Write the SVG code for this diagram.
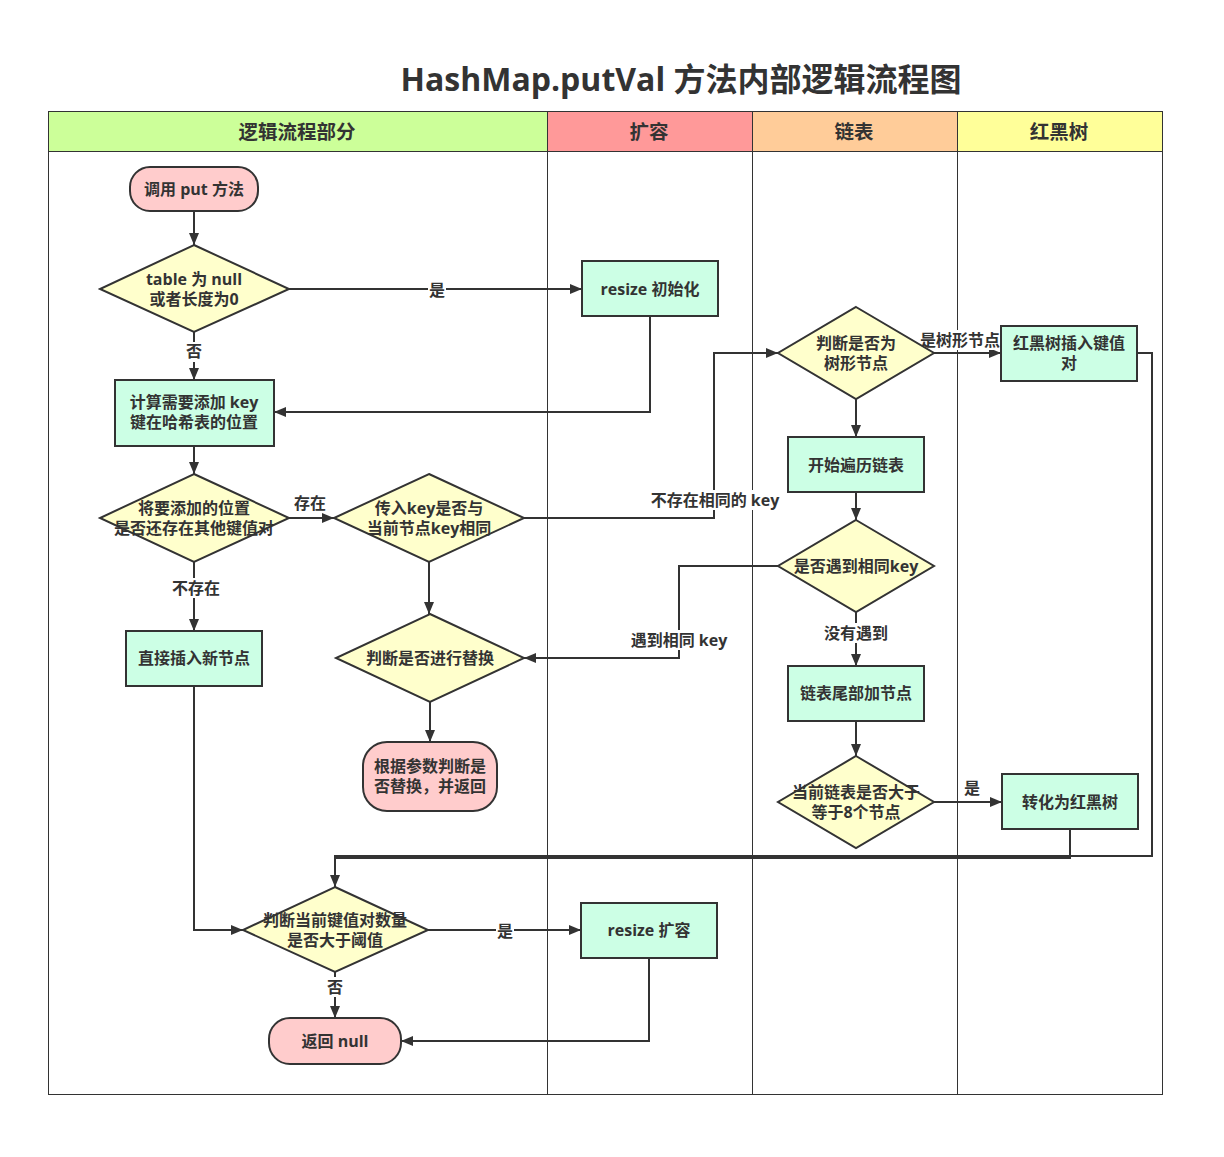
<svg xmlns="http://www.w3.org/2000/svg" width="1224" height="1157" viewBox="0 0 1224 1157">
<defs>
<marker id="arr" markerUnits="userSpaceOnUse" markerWidth="12" markerHeight="10" refX="12" refY="5" orient="auto">
<path d="M0,0 L12,5 L0,10 z" fill="#333"/>
</marker>
<style>
text{font-family:"Open Sans","Noto Sans CJK SC",sans-serif;font-weight:bold;fill:#333;text-anchor:middle;dominant-baseline:central}
.n{font-size:16px}
.h{font-size:19.5px}
.lbl{font-size:16px}
.c{fill:none;stroke:#333;stroke-width:2;marker-end:url(#arr)}
.cn{fill:none;stroke:#333;stroke-width:2}
.rect{fill:#ccffe5;stroke:#333;stroke-width:2}
.dia{fill:#ffffcc;stroke:#333;stroke-width:2}
.term{fill:#ffcccc;stroke:#333;stroke-width:2}
.lane{fill:none;stroke:#333;stroke-width:1}
.bg{fill:#fff}
</style>
</defs>
<rect width="1224" height="1157" fill="#fff"/>
<text x="681" y="78" style="font-size:32px">HashMap.putVal 方法内部逻辑流程图</text>

<g id="lanes">
<rect x="48" y="111" width="499" height="40" fill="#ccff99"/>
<rect x="547" y="111" width="205" height="40" fill="#ff9999"/>
<rect x="752" y="111" width="205" height="40" fill="#ffcc99"/>
<rect x="957" y="111" width="205" height="40" fill="#ffff99"/>
<rect x="48.5" y="111.5" width="1114" height="983" class="lane"/>
<line x1="48" y1="151.5" x2="1162" y2="151.5" class="lane"/>
<line x1="547.5" y1="111" x2="547.5" y2="1094" class="lane"/>
<line x1="752.5" y1="111" x2="752.5" y2="1094" class="lane"/>
<line x1="957.5" y1="111" x2="957.5" y2="1094" class="lane"/>
<text x="297" y="131" class="h">逻辑流程部分</text>
<text x="649" y="131" class="h">扩容</text>
<text x="854" y="131" class="h">链表</text>
<text x="1059" y="131" class="h">红黑树</text>
</g>

<g id="connectors">
<path d="M194,211 L194,245" class="c"/>
<path d="M289,289 L582,289" class="c"/>
<path d="M194,332 L194,380" class="c"/>
<path d="M650,316 L650,412 L274,412" class="c"/>
<path d="M194,446 L194,474" class="c"/>
<path d="M289,518 L334,518" class="c"/>
<path d="M194,562 L194,631" class="c"/>
<path d="M524,518 L714,518 L714,353 L778,353" class="c"/>
<path d="M429,562 L429,614" class="c"/>
<path d="M430,702 L430,742" class="c"/>
<path d="M934,353 L1001,353" class="c"/>
<path d="M856,399 L856,437" class="c"/>
<path d="M856,492 L856,520" class="c"/>
<path d="M778,566 L679,566 L679,658 L524,658" class="c"/>
<path d="M856,612 L856,666" class="c"/>
<path d="M856,721 L856,756" class="c"/>
<path d="M934,802 L1002,802" class="c"/>
<path d="M1137,353 L1152,353 L1152,856 L335,856 L335,887" class="c"/>
<path d="M1070,829 L1070,858 L335,858" class="cn"/>
<path d="M194,686 L194,930 L243,930" class="c"/>
<path d="M428,930 L581,930" class="c"/>
<path d="M335,972 L335,1018" class="c"/>
<path d="M649,958 L649,1041 L401,1041" class="c"/>
<rect x="428" y="280" width="18" height="20" class="bg"/>
<text x="437" y="290" class="lbl">是</text>
<rect x="185" y="342" width="18" height="20" class="bg"/>
<text x="194" y="351" class="lbl">否</text>
<text x="310" y="503" class="lbl">存在</text>
<rect x="168" y="578" width="56" height="20" class="bg"/>
<text x="196" y="588" class="lbl">不存在</text>
<rect x="649" y="490" width="132" height="20" class="bg"/>
<text x="715" y="500" class="lbl">不存在相同的 key</text>
<rect x="919" y="330" width="82" height="20" class="bg"/>
<text x="960" y="340" class="lbl">是树形节点</text>
<rect x="628" y="630" width="102" height="20" class="bg"/>
<text x="679" y="640" class="lbl">遇到相同 key</text>
<rect x="820" y="623" width="72" height="20" class="bg"/>
<text x="856" y="633" class="lbl">没有遇到</text>
<text x="972" y="788" class="lbl">是</text>
<rect x="496" y="921" width="18" height="20" class="bg"/>
<text x="505" y="931" class="lbl">是</text>
<rect x="326" y="977" width="18" height="20" class="bg"/>
<text x="335" y="987" class="lbl">否</text>
</g>

<g id="n_start">
<rect x="130" y="167" width="128" height="44" rx="20" class="term"/>
<text x="194" y="189" class="n">调用 put 方法</text>
</g>
<g id="n_tablenull">
<polygon points="194,245 289,289 194,332 100,289" class="dia"/>
<text x="194" y="279" class="n">table 为 null</text>
<text x="194" y="299" class="n">或者长度为0</text>
</g>
<g id="n_resizeinit">
<rect x="582" y="261" width="136" height="55" class="rect"/>
<text x="650" y="289" class="n">resize 初始化</text>
</g>
<g id="n_calc">
<rect x="115" y="380" width="159" height="66" class="rect"/>
<text x="194" y="402" class="n">计算需要添加 key</text>
<text x="194" y="422" class="n">键在哈希表的位置</text>
</g>
<g id="n_exists">
<polygon points="194,474 289,518 194,562 100,518" class="dia"/>
<text x="194" y="508" class="n">将要添加的位置</text>
<text x="194" y="528" class="n">是否还存在其他键值对</text>
</g>
<g id="n_samekey">
<polygon points="429,474 524,518 429,562 334,518" class="dia"/>
<text x="429" y="508" class="n">传入key是否与</text>
<text x="429" y="528" class="n">当前节点key相同</text>
</g>
<g id="n_insert">
<rect x="126" y="631" width="136" height="55" class="rect"/>
<text x="194" y="658" class="n">直接插入新节点</text>
</g>
<g id="n_replace">
<polygon points="430,614 524,658 430,702 336,658" class="dia"/>
<text x="430" y="658" class="n">判断是否进行替换</text>
</g>
<g id="n_return1">
<rect x="363" y="742" width="134" height="69" rx="24" class="term"/>
<text x="430" y="766" class="n">根据参数判断是</text>
<text x="430" y="786" class="n">否替换，并返回</text>
</g>
<g id="n_istree">
<polygon points="856,307 934,353 856,399 778,353" class="dia"/>
<text x="856" y="343" class="n">判断是否为</text>
<text x="856" y="363" class="n">树形节点</text>
</g>
<g id="n_treeinsert">
<rect x="1001" y="326" width="136" height="55" class="rect"/>
<text x="1069" y="343" class="n">红黑树插入键值</text>
<text x="1069" y="363" class="n">对</text>
</g>
<g id="n_traverse">
<rect x="788" y="437" width="136" height="55" class="rect"/>
<text x="856" y="465" class="n">开始遍历链表</text>
</g>
<g id="n_meetkey">
<polygon points="856,520 934,566 856,612 778,566" class="dia"/>
<text x="856" y="566" class="n">是否遇到相同key</text>
</g>
<g id="n_tail">
<rect x="788" y="666" width="136" height="55" class="rect"/>
<text x="856" y="693" class="n">链表尾部加节点</text>
</g>
<g id="n_ge8">
<polygon points="856,756 934,802 856,848 778,802" class="dia"/>
<text x="856" y="792" class="n">当前链表是否大于</text>
<text x="856" y="812" class="n">等于8个节点</text>
</g>
<g id="n_totree">
<rect x="1002" y="774" width="136" height="55" class="rect"/>
<text x="1070" y="802" class="n">转化为红黑树</text>
</g>
<g id="n_threshold">
<polygon points="335,887 428,930 335,972 243,930" class="dia"/>
<text x="335" y="920" class="n">判断当前键值对数量</text>
<text x="335" y="940" class="n">是否大于阈值</text>
</g>
<g id="n_resize">
<rect x="581" y="903" width="136" height="55" class="rect"/>
<text x="649" y="930" class="n">resize 扩容</text>
</g>
<g id="n_returnnull">
<rect x="269" y="1018" width="132" height="46" rx="21" class="term"/>
<text x="335" y="1041" class="n">返回 null</text>
</g>
</svg>
